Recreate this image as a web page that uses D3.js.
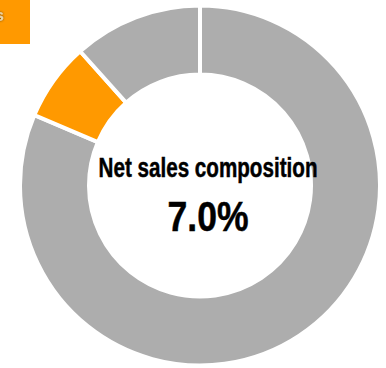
<!DOCTYPE html>
<html>
<head>
<meta charset="utf-8">
<script src="https://cdn.jsdelivr.net/npm/d3@7"></script>
<style>
  html, body { margin: 0; padding: 0; background: #fff; }
  svg { display: block; }
</style>
</head>
<body>
<svg id="chart" width="386" height="368"></svg>
<script>
// Net sales split: segments in clockwise order from 12 o'clock
const segments = ["Other A", "Highlighted segment", "Other B"];
const shares = [81.4, 7.0, 11.6];
const segmentColors = ["#adadad", "#ff9900", "#adadad"];
const centerTitle = "Net sales composition";
const highlightIndex = 1;

const svg = d3.select("#chart");
const cx = 200, cy = 185.5;
const outerR = 180, innerR = 111;

// Corner tag
svg.append("rect")
  .attr("x", 0).attr("y", 0)
  .attr("width", 30).attr("height", 44)
  .attr("fill", "#ff9900");

const defs = svg.append("defs");
const shadow = defs.append("filter").attr("id", "tagShadow")
  .attr("x", "-50%").attr("y", "-50%").attr("width", "200%").attr("height", "200%");
shadow.append("feDropShadow")
  .attr("dx", 0).attr("dy", 0).attr("stdDeviation", 1.2)
  .attr("flood-color", "#5a3500").attr("flood-opacity", 0.9);

svg.append("text")
  .attr("x", 4).attr("y", 21)
  .attr("text-anchor", "end")
  .attr("font-family", "Liberation Sans, Arial, sans-serif")
  .attr("font-weight", "bold")
  .attr("font-size", 17)
  .attr("fill", "#e9d3a6")
  .attr("filter", "url(#tagShadow)")
  .text("s");

// Donut
const pie = d3.pie().sort(null).value(d => d);
const arc = d3.arc().innerRadius(innerR).outerRadius(outerR);

const g = svg.append("g").attr("transform", `translate(${cx},${cy})`);
g.selectAll("path")
  .data(pie(shares))
  .join("path")
  .attr("d", arc)
  .attr("fill", (d, i) => segmentColors[i])
  .attr("stroke", "#fff")
  .attr("stroke-width", 4)
  .attr("stroke-linejoin", "miter");

// Center labels
const tx = 208;
svg.append("text")
  .attr("x", tx).attr("y", 177)
  .attr("text-anchor", "middle")
  .attr("font-family", "Liberation Sans, Arial, sans-serif")
  .attr("font-weight", "bold")
  .attr("font-size", 28.5)
  .attr("fill", "#000")
  .attr("stroke", "#000")
  .attr("stroke-width", 0.5)
  .attr("textLength", 219)
  .attr("lengthAdjust", "spacingAndGlyphs")
  .text(centerTitle);

svg.append("text")
  .attr("x", tx).attr("y", 230.5)
  .attr("text-anchor", "middle")
  .attr("font-family", "Liberation Sans, Arial, sans-serif")
  .attr("font-weight", "bold")
  .attr("font-size", 42)
  .attr("fill", "#000")
  .attr("stroke", "#000")
  .attr("stroke-width", 0.5)
  .attr("textLength", 81)
  .attr("lengthAdjust", "spacingAndGlyphs")
  .text(d3.format(".1f")(shares[highlightIndex]) + "%");
</script>
</body>
</html>
